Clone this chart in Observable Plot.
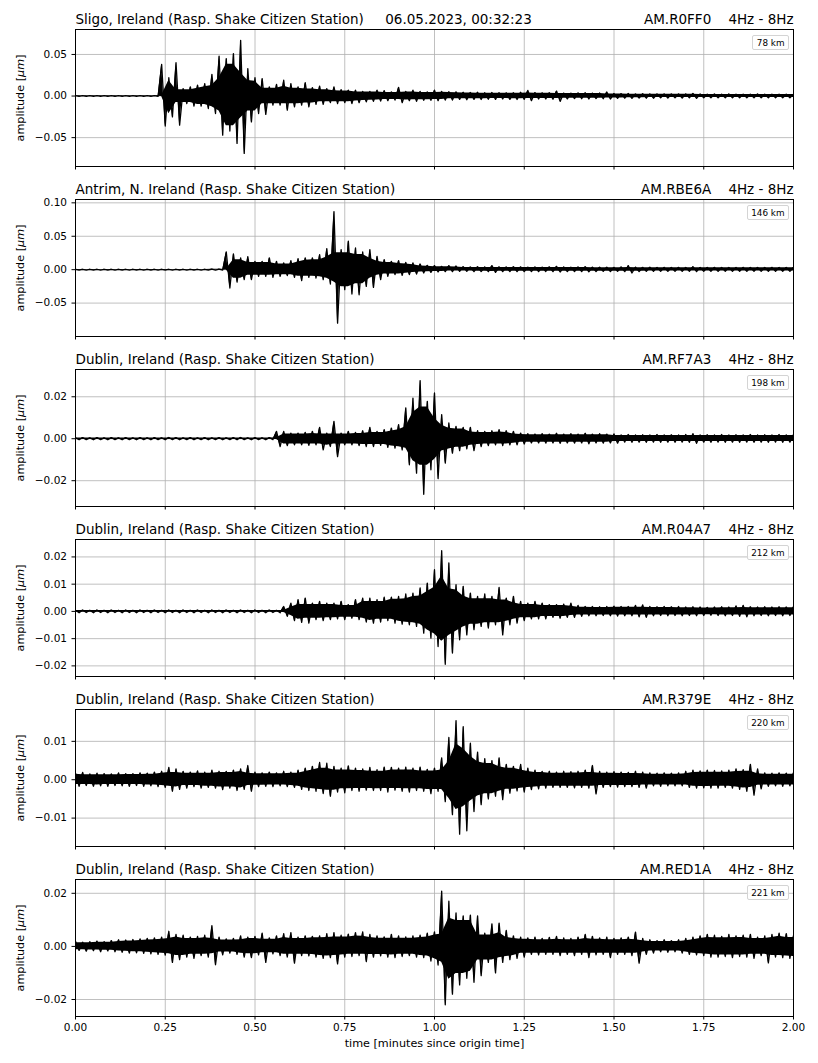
<!DOCTYPE html>
<html><head><meta charset="utf-8">
<script src="https://cdn.jsdelivr.net/npm/d3@7"></script>
<script src="https://cdn.jsdelivr.net/npm/@observablehq/plot@0.6"></script>
<style>
body{margin:0;background:#fff;font-family:"DejaVu Sans",sans-serif}
#fig{position:relative;width:818px;height:1063px;background:#fff}
.panel{position:relative;width:818px;line-height:0}
.panel svg text{white-space:pre}
.legend{position:absolute;top:5px;right:29px;font:8.8px "DejaVu Sans",sans-serif;line-height:10px;padding:1.5px 3.5px;border:1px solid #d4d4d4;border-radius:2px;background:rgba(255,255,255,0.85);color:#000}
</style></head><body><div id="fig"></div><script>
// ---- chart texts ----
const places = ["Sligo, Ireland (Rasp. Shake Citizen Station)","Antrim, N. Ireland (Rasp. Shake Citizen Station)","Dublin, Ireland (Rasp. Shake Citizen Station)","Dublin, Ireland (Rasp. Shake Citizen Station)","Dublin, Ireland (Rasp. Shake Citizen Station)","Dublin, Ireland (Rasp. Shake Citizen Station)"];
const stations = ["AM.R0FF0","AM.RBE6A","AM.RF7A3","AM.R04A7","AM.R379E","AM.RED1A"];
const distances = ["78 km","146 km","198 km","212 km","220 km","221 km"];
const band = "4Hz - 8Hz";
const originTime = "06.05.2023, 00:32:23";
const yLabel = "amplitude [μm]";
const xLabel = "time [minutes since origin time]";
// ---- axes ----
const xTicks = [0,0.25,0.5,0.75,1,1.25,1.5,1.75,2];
const yTicks1 = [-0.05,0,0.05];
const yTicks2 = [-0.05,0,0.05,0.10];
const yTicks3 = [-0.02,0,0.02];
const yTicks4 = [-0.02,-0.01,0,0.01,0.02];
const yTicks5 = [-0.01,0,0.01];
const yTicks6 = [-0.02,0,0.02];
const yDom1 = [-0.0847,0.080];
const yDom2 = [-0.100,0.105];
const yDom3 = [-0.0323,0.033];
const yDom4 = [-0.0239,0.0264];
const yDom5 = [-0.0174,0.0183];
const yDom6 = [-0.0264,0.0252];
// ---- waveform peak envelopes (µm), one max and one min every 0.02 min ----
const sampleStep = 0.02;
const hi1 = [0.0005,0.0004,0.0005,0.0004,0.0005,0.0004,0.0005,0.0004,0.0005,0.0004,0.0005,0.0006,
0.038,0.022,0.040,0.009,0.011,0.013,0.015,0.026,0.048,0.045,0.051,0.067,
0.033,0.022,0.021,0.011,0.014,0.019,0.015,0.011,0.016,0.010,0.012,0.009,
0.011,0.0076,0.007,0.007,0.0056,0.0056,0.007,0.0064,0.005,0.0104,0.0056,0.007,
0.0056,0.005,0.007,0.0056,0.0052,0.005,0.0045,0.0042,0.0045,0.004,0.0042,0.004,
0.0038,0.004,0.0045,0.0068,0.0042,0.0038,0.004,0.006,0.0036,0.0035,0.0038,0.004,
0.0035,0.0036,0.0048,0.003,0.0028,0.003,0.0026,0.0028,0.0026,0.0024,0.0026,0.0024,
0.0025,0.0026,0.0032,0.0024,0.0022,0.0024,0.0022,0.0024,0.0022,0.0023,0.0022,0.0024,
0.0022,0.0023,0.0021,0.0022,0.0021];
const lo1 = [-0.0004,-0.0005,-0.0004,-0.0005,-0.0004,-0.0005,-0.0004,-0.0005,-0.0004,-0.0005,-0.0004,-0.0005,
-0.036,-0.025,-0.035,-0.009,-0.012,-0.012,-0.015,-0.021,-0.047,-0.042,-0.057,-0.069,
-0.031,-0.021,-0.022,-0.011,-0.011,-0.017,-0.013,-0.011,-0.013,-0.010,-0.010,-0.008,
-0.009,-0.008,-0.009,-0.008,-0.007,-0.0064,-0.006,-0.0056,-0.0048,-0.008,-0.0056,-0.0064,
-0.0052,-0.0052,-0.0056,-0.0048,-0.0048,-0.004,-0.0045,-0.004,-0.0042,-0.0038,-0.004,-0.0036,
-0.004,-0.0042,-0.004,-0.0056,-0.0036,-0.0036,-0.0038,-0.0064,-0.0034,-0.003,-0.0032,-0.0035,
-0.003,-0.0032,-0.0036,-0.0028,-0.0026,-0.0028,-0.0024,-0.0026,-0.0026,-0.0022,-0.0024,-0.0022,
-0.0024,-0.0022,-0.0028,-0.0022,-0.002,-0.0022,-0.002,-0.0021,-0.002,-0.0022,-0.002,-0.0021,
-0.002,-0.0021,-0.002,-0.0021,-0.002];
const hi2 = [0.0006,0.0005,0.0006,0.0005,0.0006,0.0005,0.0006,0.0005,0.0006,0.0005,0.0006,0.0005,
0.0006,0.0005,0.0006,0.0005,0.0006,0.0005,0.0006,0.0007,0.0008,
0.0265,0.0235,0.0175,0.0195,0.0125,0.0125,0.0175,0.0125,0.010,0.0135,0.0165,0.0175,
0.0175,0.0225,0.0315,0.087,0.030,0.0425,0.0325,0.0265,0.030,0.020,0.015,0.0125,
0.0135,0.011,0.010,0.0085,0.0065,0.006,0.005,0.006,0.0055,0.0045,0.004,0.0045,
0.004,0.006,0.0042,0.004,0.0045,0.0042,0.0038,0.004,0.0038,0.0042,0.005,0.004,
0.0038,0.004,0.0045,0.0038,0.0036,0.0038,0.0035,0.004,0.006,0.0038,0.0035,0.0036,
0.0034,0.0035,0.0033,0.0035,0.0034,0.0045,0.0034,0.0033,0.0035,0.0032,0.0034,0.0033,
0.0035,0.0032,0.0034,0.0033,0.0035,0.0032,0.0034,0.0033];
const lo2 = [-0.0005,-0.0006,-0.0005,-0.0006,-0.0005,-0.0006,-0.0005,-0.0006,-0.0005,-0.0006,-0.0005,-0.0006,
-0.0005,-0.0006,-0.0005,-0.0006,-0.0005,-0.0006,-0.0005,-0.0006,-0.0007,
-0.0275,-0.0185,-0.015,-0.015,-0.010,-0.010,-0.0115,-0.010,-0.009,-0.0115,-0.0165,-0.0115,
-0.0125,-0.015,-0.0215,-0.080,-0.030,-0.0365,-0.0375,-0.025,-0.0265,-0.015,-0.010,-0.0075,
-0.0085,-0.0075,-0.0065,-0.005,-0.004,-0.0035,-0.003,-0.003,-0.0025,-0.0025,-0.003,-0.0028,
-0.003,-0.004,-0.003,-0.0028,-0.003,-0.003,-0.0028,-0.003,-0.0027,-0.003,-0.0035,-0.0028,
-0.0027,-0.003,-0.0032,-0.0027,-0.0026,-0.0028,-0.0026,-0.003,-0.005,-0.0028,-0.0026,-0.0026,
-0.0025,-0.0026,-0.0025,-0.0026,-0.0025,-0.003,-0.0025,-0.0024,-0.0026,-0.0024,-0.0025,-0.0024,
-0.0026,-0.0024,-0.0025,-0.0024,-0.0026,-0.0024,-0.0025,-0.0024];
const hi3 = [0.0004,0.0005,0.0004,0.0005,0.0004,0.0005,0.0004,0.0005,0.0004,0.0005,0.0004,0.0005,
0.0004,0.0006,0.0005,0.0004,0.0005,0.0004,0.0005,0.0004,0.0005,0.0004,0.0005,0.0006,0.0004,0.0005,0.0004,0.0005,
0.0035,0.0035,0.0027,0.0027,0.003,0.0035,0.0054,0.0027,0.0083,0.0027,0.0035,0.003,
0.0038,0.0054,0.0035,0.0043,0.0051,0.0067,0.0147,0.0194,0.0277,0.0178,0.0218,0.0115,
0.0075,0.0059,0.0054,0.0054,0.0038,0.0035,0.0038,0.0043,0.0038,0.0035,0.0027,0.0024,
0.0022,0.0024,0.0022,0.0026,0.0022,0.0024,0.0022,0.0026,0.0022,0.0024,0.0022,0.0023,
0.0018,0.002,0.0018,0.0019,0.0018,0.002,0.0018,0.0019,0.0018,0.002,0.0024,0.0018,
0.0019,0.0018,0.002,0.0018,0.0019,0.0018,0.002,0.0018,0.0019,0.0018,0.002,0.0018,0.0019];
const lo3 = [-0.0005,-0.0004,-0.0005,-0.0004,-0.0005,-0.0004,-0.0005,-0.0004,-0.0005,-0.0004,-0.0005,-0.0004,
-0.0005,-0.0004,-0.0005,-0.0004,-0.0005,-0.0004,-0.0005,-0.0004,-0.0005,-0.0004,-0.0005,-0.0004,-0.0005,-0.0004,-0.0005,-0.0004,
-0.0037,-0.0033,-0.0029,-0.0029,-0.0032,-0.0029,-0.0053,-0.0037,-0.0085,-0.0029,-0.0029,-0.0033,
-0.0037,-0.0037,-0.0032,-0.0041,-0.0045,-0.0053,-0.0124,-0.0164,-0.0265,-0.0148,-0.019,-0.0116,
-0.0069,-0.0057,-0.0048,-0.0057,-0.0037,-0.0033,-0.0029,-0.0033,-0.0029,-0.0029,-0.0025,-0.002,
-0.002,-0.0021,-0.002,-0.0022,-0.002,-0.0021,-0.002,-0.0024,-0.002,-0.0021,-0.002,-0.0021,
-0.0016,-0.0017,-0.0016,-0.0017,-0.0016,-0.0017,-0.0016,-0.0017,-0.0016,-0.0017,-0.0022,-0.0016,
-0.0017,-0.0016,-0.0017,-0.0016,-0.0017,-0.0016,-0.0017,-0.0016,-0.0017,-0.0016,-0.0017,-0.0016,-0.0017];
const hi4 = [0.0004,0.0005,0.0004,0.0005,0.0004,0.0005,0.0004,0.0005,0.0004,0.0005,0.0004,0.0005,
0.0004,0.0005,0.0004,0.0005,0.0004,0.0005,0.0004,0.0005,0.0004,0.0005,0.0004,0.0005,0.0004,0.0005,0.0004,0.0005,0.0004,
0.0018,0.003,0.0043,0.0049,0.003,0.0037,0.003,0.003,0.0037,0.0025,0.0043,0.0049,
0.0049,0.0043,0.0052,0.0052,0.0055,0.0064,0.0067,0.0086,0.0104,0.0153,0.0223,0.0178,
0.0098,0.0092,0.0067,0.0055,0.0064,0.0055,0.0088,0.0049,0.0055,0.0037,0.003,0.0037,
0.003,0.0025,0.0025,0.0027,0.003,0.0022,0.0018,0.0018,0.0017,0.0018,0.0019,0.0018,
0.0018,0.0022,0.0024,0.0018,0.0017,0.0018,0.0017,0.0018,0.0016,0.0017,0.0016,0.0015,
0.0016,0.0017,0.0016,0.002,0.0022,0.0017,0.0016,0.0017,0.0016,0.0017,0.0016,0.0017];
const lo4 = [-0.0005,-0.0004,-0.0005,-0.0004,-0.0005,-0.0004,-0.0005,-0.0004,-0.0005,-0.0004,-0.0005,-0.0004,
-0.0005,-0.0004,-0.0005,-0.0004,-0.0005,-0.0004,-0.0005,-0.0004,-0.0005,-0.0004,-0.0005,-0.0004,-0.0005,-0.0004,-0.0005,-0.0004,-0.0005,
-0.0018,-0.0034,-0.004,-0.0043,-0.003,-0.0034,-0.003,-0.0027,-0.003,-0.0025,-0.003,-0.0039,
-0.0043,-0.0039,-0.0034,-0.0043,-0.0047,-0.0049,-0.0055,-0.008,-0.0098,-0.0129,-0.0194,-0.0153,
-0.0104,-0.0086,-0.0067,-0.0055,-0.0061,-0.0049,-0.0086,-0.0049,-0.0043,-0.0034,-0.0027,-0.0027,
-0.0027,-0.0022,-0.0025,-0.0022,-0.0022,-0.0018,-0.0016,-0.0016,-0.0015,-0.0016,-0.0017,-0.0016,
-0.0016,-0.002,-0.0022,-0.0016,-0.0015,-0.0016,-0.0015,-0.0016,-0.0015,-0.0016,-0.0015,-0.0014,
-0.0015,-0.0016,-0.0015,-0.0018,-0.002,-0.0016,-0.0015,-0.0016,-0.0015,-0.0016,-0.0015,-0.0016];
const hi5 = [0.0017,0.0019,0.0015,0.0017,0.0016,0.0015,0.0018,0.0016,0.0016,0.0018,0.0017,0.002,
0.0022,0.0032,0.0028,0.0022,0.002,0.0023,0.002,0.0025,0.0022,0.0022,0.0025,0.0028,
0.0037,0.002,0.0018,0.002,0.0018,0.0022,0.002,0.0025,0.003,0.0035,0.0045,0.0043,
0.0035,0.003,0.0036,0.003,0.0028,0.0032,0.0026,0.0033,0.0032,0.003,0.0033,0.003,
0.0033,0.0027,0.003,0.0057,0.011,0.0154,0.0138,0.0095,0.0072,0.0055,0.005,0.0057,
0.004,0.0035,0.004,0.003,0.0025,0.0022,0.0022,0.002,0.0022,0.0021,0.0022,0.0025,
0.0037,0.0022,0.002,0.0021,0.002,0.0019,0.0022,0.002,0.0018,0.0017,0.0018,0.0017,
0.0018,0.0022,0.0025,0.0023,0.0025,0.0024,0.0023,0.0025,0.0028,0.0026,0.004,0.0028,
0.0018,0.0017,0.0018,0.0017,0.0018];
const lo5 = [-0.0017,-0.0015,-0.0017,-0.0016,-0.0017,-0.0015,-0.0016,-0.0017,-0.0015,-0.0017,-0.0016,-0.0018,
-0.002,-0.003,-0.0025,-0.0022,-0.0018,-0.0022,-0.002,-0.0022,-0.0026,-0.0022,-0.0028,-0.0025,
-0.003,-0.0018,-0.0017,-0.0018,-0.0016,-0.0018,-0.002,-0.0025,-0.0028,-0.003,-0.0036,-0.0043,
-0.0032,-0.0034,-0.0028,-0.003,-0.0027,-0.0028,-0.0028,-0.0032,-0.0027,-0.003,-0.0032,-0.0028,
-0.003,-0.0036,-0.003,-0.0057,-0.0091,-0.0142,-0.0133,-0.0083,-0.0065,-0.005,-0.0043,-0.0052,
-0.0035,-0.0029,-0.0032,-0.0026,-0.0024,-0.0022,-0.002,-0.002,-0.002,-0.0021,-0.002,-0.0022,
-0.0037,-0.002,-0.0018,-0.0019,-0.0018,-0.0018,-0.002,-0.0022,-0.0016,-0.0017,-0.0016,-0.0016,
-0.0016,-0.002,-0.0022,-0.0021,-0.0022,-0.0022,-0.002,-0.0022,-0.0025,-0.003,-0.004,-0.0024,
-0.0017,-0.0016,-0.0017,-0.0016,-0.0017];
const hi6 = [0.0019,0.0016,0.0018,0.002,0.0018,0.0022,0.0025,0.0024,0.0026,0.0028,0.003,0.0032,
0.0035,0.0057,0.0045,0.0042,0.0035,0.0038,0.0042,0.0078,0.0035,0.0028,0.003,0.004,
0.0035,0.0038,0.005,0.0032,0.004,0.0048,0.0052,0.0035,0.004,0.0038,0.004,0.0048,
0.0052,0.0042,0.0046,0.0052,0.0055,0.0045,0.004,0.0036,0.0045,0.004,0.0036,0.004,
0.0042,0.005,0.0055,0.0208,0.017,0.0126,0.0115,0.0118,0.0115,0.005,0.0085,0.0088,
0.006,0.004,0.0035,0.0032,0.0035,0.003,0.0034,0.0038,0.0032,0.003,0.0035,0.0045,
0.0038,0.0032,0.0035,0.003,0.0032,0.0035,0.0054,0.003,0.0025,0.0022,0.0025,0.0022,
0.0025,0.003,0.0035,0.004,0.0045,0.0042,0.0038,0.0045,0.004,0.0042,0.0045,0.0035,
0.004,0.0045,0.005,0.0048,0.004];
const lo6 = [-0.0015,-0.0018,-0.0016,-0.002,-0.0017,-0.002,-0.0022,-0.0025,-0.0024,-0.0026,-0.0028,-0.003,
-0.0033,-0.006,-0.005,-0.004,-0.0045,-0.0035,-0.004,-0.0069,-0.0032,-0.0025,-0.003,-0.004,
-0.0042,-0.0032,-0.006,-0.0028,-0.0035,-0.004,-0.0063,-0.0035,-0.0036,-0.004,-0.0045,-0.0042,
-0.0066,-0.004,-0.0038,-0.0035,-0.0057,-0.004,-0.0036,-0.004,-0.0042,-0.0038,-0.0035,-0.004,
-0.0042,-0.0055,-0.007,-0.022,-0.018,-0.0145,-0.012,-0.0135,-0.011,-0.006,-0.01,-0.006,
-0.005,-0.0045,-0.004,-0.003,-0.0032,-0.003,-0.003,-0.0035,-0.003,-0.0035,-0.003,-0.0042,
-0.0032,-0.003,-0.0042,-0.003,-0.003,-0.0035,-0.0063,-0.003,-0.0025,-0.002,-0.0022,-0.002,
-0.0025,-0.003,-0.0032,-0.0035,-0.004,-0.004,-0.0038,-0.0042,-0.0038,-0.004,-0.0045,-0.0035,
-0.0062,-0.004,-0.0042,-0.0045,-0.0045];

const his = [hi1,hi2,hi3,hi4,hi5,hi6];
const los = [lo1,lo2,lo3,lo4,lo5,lo6];
const yTicksAll = [yTicks1,yTicks2,yTicks3,yTicks4,yTicks5,yTicks6];
const yDoms = [yDom1,yDom2,yDom3,yDom4,yDom5,yDom6];

const fig = document.getElementById("fig");
const grid = {stroke:"#b0b0b0", strokeOpacity:1, strokeWidth:0.8};
const fmt2 = d3.format(".2f");
const coreShare = 0.85; // share of the local envelope that the dense trace fills solid

stations.forEach((st, k) => {
  const last = k === stations.length - 1;
  const hi = his[k], lo = los[k];
  // zig-zag trace: each maximum followed by the minimum of the same window
  const zig = [];
  hi.forEach((h, i) => {
    zig.push({t: i * sampleStep, a: h});
    zig.push({t: i * sampleStep + sampleStep / 2, a: lo[i]});
  });
  // solid core of the dense trace, from the lower envelope of neighbouring windows
  const core = hi.map((h, i) => ({
    t: i * sampleStep,
    top: coreShare * d3.min(hi.slice(Math.max(0, i - 1), i + 2)),
    bot: coreShare * d3.max(lo.slice(Math.max(0, i - 1), i + 2))
  }));
  const leftTitle = k === 0 ? places[k] + "     " + originTime : places[k];
  const rightTitle = st + "    " + band;
  const marks = [
    Plot.gridX(xTicks, grid),
    Plot.gridY(yTicksAll[k], grid),
    Plot.areaY(core, {x:"t", y1:"bot", y2:"top", fill:"black", clip:true}),
    Plot.areaY(zig, {x:"t", y:"a", fill:"black", clip:true}),
    Plot.line(zig, {x:"t", y:"a", stroke:"black", strokeWidth:1.3, clip:true}),
    Plot.frame({stroke:"black", strokeWidth:1}),
    Plot.axisY(yTicksAll[k], {tickSize:3.5, tickPadding:5, tickFormat:fmt2, label:null, fontSize:10.5}),
    Plot.axisX(xTicks, {tickSize:3.5, tickPadding:4, tickFormat: last ? fmt2 : () => "", label:null, fontSize:10.5}),
    Plot.text([yLabel], {frameAnchor:"left", dx:-55.5, rotate:-90, textAnchor:"middle", lineAnchor:"middle", fontSize:11.2}),
    Plot.text([leftTitle], {frameAnchor:"top-left", textAnchor:"start", lineAnchor:"bottom", dy:-5.5, fontSize:13.5}),
    Plot.text([rightTitle], {frameAnchor:"top-right", textAnchor:"end", lineAnchor:"bottom", dy:-5.5, fontSize:13.5})
  ];
  if (last) marks.push(Plot.text([xLabel], {frameAnchor:"bottom", dy:27, lineAnchor:"middle", fontSize:11.2}));
  const svg = Plot.plot({
    width: 818, height: last ? 213 : 170,
    marginLeft: 75, marginRight: 25, marginTop: 29, marginBottom: last ? 47 : 4,
    x: {domain:[0,2], label:null},
    y: {domain: yDoms[k], label:null},
    style: {fontFamily:"'DejaVu Sans', sans-serif", fontSize:"10.5px", color:"black", background:"white", overflow:"visible"},
    marks
  });
  d3.select(svg).selectAll("text").filter(function(){ return this.textContent === yLabel; }).each(function(){
    const t = d3.select(this); t.text(null);
    t.append("tspan").text("amplitude [");
    t.append("tspan").attr("font-style","italic").text("μm");
    t.append("tspan").text("]");
  });
  const wrap = document.createElement("div"); wrap.className = "panel";
  wrap.appendChild(svg);
  const leg = document.createElement("div"); leg.className = "legend"; leg.textContent = distances[k];
  leg.style.top = "35px";
  wrap.appendChild(leg);
  fig.appendChild(wrap);
});
</script></body></html>
